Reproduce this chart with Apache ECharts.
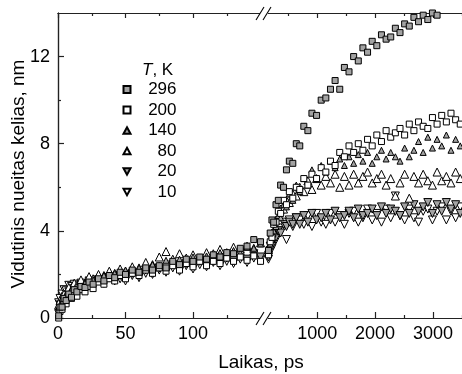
<!DOCTYPE html>
<html>
<head>
<meta charset="utf-8">
<script src="https://cdn.jsdelivr.net/npm/echarts@6/dist/echarts.min.js"></script>
<style>html,body{margin:0;padding:0;background:#fff;}#c{width:462px;height:374px;}</style>
</head>
<body>
<div id="c"></div>
<script>
// ---- data ----
const seriesNames = ['296', '200', '140', '80', '20', '10'];
const tLeft = [0.5,1.5,3,4.5,6,8,10,12,14,17,20,23,26,30,34,38,42,46,50,55,60,65,70,75,80,85,90,95,100,105,110,115,120,125,130,135,140,145,150];
const tRight = [160,190,220,250,290,330,370,420,470,520,580,640,700,770,840,910,990,1070,1150,1230,1310,1390,1470,1550,1630,1710,1790,1870,1950,2030,2110,2190,2270,2350,2430,2510,2590,2670,2750,2830,2910,2990,3070,3150,3230,3310,3390,3470];

const v296L = [0.1,0.5,0.5,0.9,0.8,1.1,0.95,1.3,1.2,1.45,1.4,1.65,1.55,1.8,1.7,1.95,1.85,2.1,2.0,2.2,2.1,2.3,2.2,2.4,2.3,2.6,2.45,2.7,2.6,2.8,2.7,2.9,2.8,3.0,2.95,3.2,3.3,3.6,3.5];
const v200L = [0.0,0.3,0.4,0.7,0.65,1.0,0.9,1.15,1.0,1.3,1.2,1.45,1.35,1.65,1.55,1.8,1.7,1.95,1.8,2.05,1.95,2.2,2.05,2.3,2.15,2.4,2.2,2.5,2.35,2.6,2.4,2.6,2.5,2.75,2.6,2.8,2.65,2.85,2.6];
const v140L = [0.5,0.6,0.9,0.8,1.1,1.1,1.3,1.25,1.45,1.45,1.6,1.55,1.75,1.75,1.95,1.9,2.05,2.0,2.2,2.15,2.3,2.25,2.45,2.4,2.65,2.5,2.7,2.6,2.8,2.7,2.85,2.8,3.0,2.9,3.1,3.0,3.25,3.2,3.4];
const v80L  = [0.6,0.8,1.0,1.1,1.0,1.4,1.3,1.6,1.5,1.75,1.6,1.9,1.8,2.0,1.95,2.15,2.05,2.25,2.15,2.35,2.3,2.55,2.45,2.8,3.05,2.7,2.95,2.75,2.9,2.7,3.0,2.95,3.15,3.0,3.25,3.1,3.3,3.2,3.45];
const v20L  = [0.2,0.6,0.6,0.9,0.9,1.2,1.05,1.35,1.2,1.5,1.35,1.6,1.5,1.75,1.6,1.85,1.75,1.95,1.85,2.05,1.95,2.2,2.1,2.3,2.2,2.45,2.25,2.5,2.4,2.6,2.5,2.65,2.55,2.75,2.65,2.85,2.7,2.95,2.8];
const v10L  = [0.7,0.9,1.1,1.3,1.25,1.5,1.45,1.55,1.35,1.6,1.45,1.7,1.55,1.75,1.6,1.85,1.7,1.8,1.7,1.95,1.85,2.05,2.0,2.2,2.1,2.3,2.15,2.4,2.25,2.45,2.35,2.55,2.4,2.6,2.5,2.7,2.55,2.75,2.65];

const v296R = [3.1,3.9,4.5,4.4,5.2,5.4,6.1,6.0,6.8,7.2,7.1,8.0,7.9,8.8,8.6,9.4,9.3,10.0,10.1,10.5,10.9,10.5,11.5,11.3,12.0,11.8,12.4,12.2,12.7,12.5,13.0,12.8,12.9,13.3,13.1,13.5,13.4,13.8,13.6,13.9,13.7,14.0,13.9,14.1,14.2,14.3,14.4,14.5];
const v200R = [2.9,3.5,3.7,4.3,4.4,4.9,4.8,5.4,5.2,5.8,5.5,6.0,5.9,6.4,6.1,6.6,6.4,6.9,6.7,7.2,7.0,7.6,7.4,7.9,7.6,8.0,7.7,8.2,7.9,8.4,8.1,8.6,8.3,8.5,8.7,8.4,8.9,8.6,9.0,8.8,8.7,9.2,8.9,9.3,9.0,9.4,9.1,8.9];
const v140R = [3.0,3.4,3.6,4.0,4.2,4.7,4.6,5.2,5.1,5.7,5.4,6.1,5.8,6.4,6.1,6.8,6.4,7.0,6.7,7.2,6.9,7.3,7.0,7.4,7.1,7.5,7.2,7.6,7.1,7.4,7.7,7.3,7.6,7.4,7.2,7.8,7.4,7.7,8.1,7.6,8.3,7.8,8.2,7.9,8.4,7.7,8.2,7.9];
const v80R  = [3.2,3.4,3.9,4.0,4.5,4.5,5.0,5.0,5.4,5.3,5.7,5.6,6.0,5.8,6.3,5.9,6.4,6.1,6.5,6.2,6.6,6.0,6.5,6.1,6.6,6.2,6.5,6.7,6.2,6.4,6.6,6.1,6.4,5.6,6.2,6.6,5.5,6.5,6.2,6.6,6.3,6.1,6.7,6.3,6.5,6.2,6.7,6.4];
const v20R  = [2.8,3.3,3.3,3.7,3.7,4.0,3.9,4.3,4.2,4.4,4.3,4.6,4.3,4.7,4.4,4.8,4.5,4.6,4.8,4.5,4.9,4.6,4.7,4.9,4.6,5.0,4.7,4.8,5.0,4.7,5.1,4.8,5.0,4.9,4.7,5.1,4.8,5.2,4.9,5.1,5.3,4.8,5.2,4.9,5.3,5.0,5.2,4.8];
const v10R  = [2.7,3.1,3.2,3.6,3.6,4.0,4.0,4.4,3.6,4.5,4.2,4.6,4.5,4.3,4.7,4.2,4.8,4.4,4.3,4.8,4.4,4.7,4.3,4.8,4.9,4.4,4.6,5.0,4.5,4.8,4.4,5.0,4.6,5.6,4.7,4.5,5.0,4.6,4.4,4.9,5.0,4.5,4.9,5.1,4.5,4.9,4.6,5.1];

const leftVals = [v296L, v200L, v140L, v80L, v20L, v10L];
const rightVals = [v296R, v200R, v140R, v80R, v20R, v10R];

const yMajor = [0, 4, 8, 12];
const yMinor = [2, 6, 10];
const xLeftMajor = [0, 50, 100];
const xLeftMinor = [25, 75, 125];
const xRightMajor = [1000, 2000, 3000];
const xRightMinor = [500, 1500, 2500, 3500];

// ---- styling ----
const FONT = 'Liberation Sans, Arial, sans-serif';
const GRAY = '#a3a3a3';
const DOWN = 'path://M0,0L10,0L5,9Z';
const UP = 'path://M5,0L10,9L0,9Z';
const styles = [
  {symbol: 'rect', size: 6, fill: GRAY},
  {symbol: 'rect', size: 6, fill: '#fff'},
  {symbol: UP, size: 6, fill: GRAY},
  {symbol: UP, size: 8, fill: '#fff'},
  {symbol: DOWN, size: 8, fill: GRAY},
  {symbol: DOWN, size: 8, fill: '#fff'}
];

const AX = '#222';
const plainNum = function (v) { return String(v); };
function xAxisDef(grid, min, max, pos, ticks, len, labels) {
  return {
    type: 'value', gridIndex: grid, min: min, max: max, position: pos,
    axisLine: {show: true, onZero: false, lineStyle: {color: AX, width: 1.2}},
    axisTick: {show: true, inside: true, length: len, customValues: ticks, lineStyle: {color: AX, width: 1.2}},
    axisLabel: labels ? {show: true, customValues: labels, formatter: plainNum, margin: 7, color: '#000', fontSize: 18, fontFamily: FONT} : {show: false},
    splitLine: {show: false}
  };
}
function yAxisDef(grid, ticks, len, labels, show) {
  return {
    type: 'value', gridIndex: grid, min: 0, max: 14, position: 'left', show: show,
    axisLine: {show: true, onZero: false, lineStyle: {color: AX, width: 1.2}},
    axisTick: {show: true, inside: true, length: len, customValues: ticks, lineStyle: {color: AX, width: 1.2}},
    axisLabel: labels ? {show: true, customValues: labels, formatter: plainNum, margin: 8, color: '#000', fontSize: 18, fontFamily: FONT} : {show: false},
    splitLine: {show: false}
  };
}

const xAxes = [
  xAxisDef(0, 0, 153.3, 'bottom', xLeftMajor, 6, xLeftMajor),
  xAxisDef(0, 0, 153.3, 'bottom', xLeftMinor, 3, null),
  xAxisDef(0, 0, 153.3, 'top', xLeftMajor, 5, null),
  xAxisDef(0, 0, 153.3, 'top', xLeftMinor, 3, null),
  xAxisDef(1, 100, 3500, 'bottom', xRightMajor, 6, xRightMajor),
  xAxisDef(1, 100, 3500, 'bottom', xRightMinor, 3, null),
  xAxisDef(1, 100, 3500, 'top', xRightMajor, 5, null),
  xAxisDef(1, 100, 3500, 'top', xRightMinor, 3, null)
];
const yAxes = [
  yAxisDef(0, yMajor, 6, yMajor, true),
  yAxisDef(0, yMinor, 3, null, true),
  yAxisDef(1, yMajor, 6, null, false)
];

const series = [];
seriesNames.forEach(function (name, i) {
  const st = styles[i];
  const common = {
    type: 'scatter', name: name, symbol: st.symbol, symbolSize: st.size,
    itemStyle: {color: st.fill, borderColor: '#000', borderWidth: 1, opacity: 1},
    emphasis: {disabled: true}, clip: true, z: 10 - i
  };
  series.push(Object.assign({}, common, {
    xAxisIndex: 0, yAxisIndex: 0,
    data: tLeft.map(function (t, k) { return [t, leftVals[i][k]]; })
  }));
  series.push(Object.assign({}, common, {
    xAxisIndex: 4, yAxisIndex: 2,
    data: tRight.map(function (t, k) { return [t, rightVals[i][k]]; })
  }));
});

function breakMark(yc) {
  return [
    {type: 'rect', shape: {x: 260, y: yc - 2, width: 8, height: 4}, style: {fill: '#fff'}, z: 100},
    {type: 'line', shape: {x1: 256, y1: yc + 7, x2: 264, y2: yc - 6}, style: {stroke: '#000', lineWidth: 1.1}, z: 101},
    {type: 'line', shape: {x1: 263, y1: yc + 7, x2: 271, y2: yc - 6}, style: {stroke: '#000', lineWidth: 1.1}, z: 101}
  ];
}

const chart = echarts.init(document.getElementById('c'), null, {renderer: 'canvas'});
chart.setOption({
  animation: false,
  backgroundColor: '#fff',
  textStyle: {fontFamily: FONT},
  grid: [
    {left: 58, top: 13, width: 207, bottom: 56},
    {left: 265, top: 13, width: 197, bottom: 56}
  ],
  xAxis: xAxes,
  yAxis: yAxes,
  title: {
    text: '{i|T}, K', left: 137, top: 57,
    textStyle: {fontSize: 17, fontWeight: 'normal', color: '#000', fontFamily: FONT,
      rich: {i: {fontStyle: 'italic', fontSize: 17, color: '#000', fontFamily: FONT}}}
  },
  legend: {
    data: seriesNames, orient: 'vertical', left: 117.5, top: 76,
    itemWidth: 7, itemHeight: 7, itemGap: 3.5, selectedMode: false,
    formatter: function (n) { return '{a|' + n + '}'; },
    textStyle: {color: '#000', fontSize: 17, fontFamily: FONT,
      rich: {a: {width: 41, align: 'right', fontSize: 17, lineHeight: 20, color: '#000', fontFamily: FONT}}}
  },
  graphic: breakMark(318).concat(breakMark(13)).concat([
    {type: 'text', x: 261, y: 363, style: {text: 'Laikas, ps', font: '19px ' + FONT, fill: '#000', align: 'center', verticalAlign: 'middle'}},
    {type: 'text', x: 19, y: 174, rotation: Math.PI / 2, style: {text: 'Vidutinis nueitas kelias, nm', font: '19px ' + FONT, fill: '#000', align: 'center', verticalAlign: 'middle'}}
  ]),
  series: series
});
</script>
</body>
</html>
